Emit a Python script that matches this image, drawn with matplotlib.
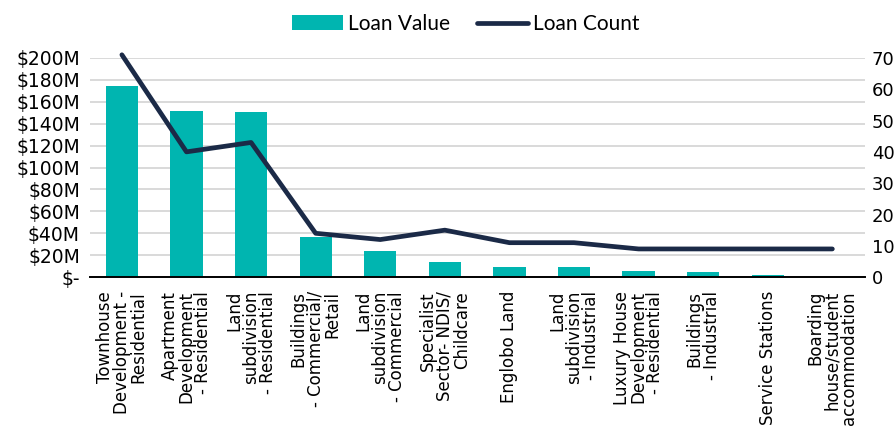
import matplotlib
matplotlib.use("Agg")
import matplotlib.pyplot as plt
from matplotlib.ticker import FuncFormatter

plt.rcParams['font.family'] = ['DejaVu Sans']

categories = [
    "Townhouse\nDevelopment -\nResidential",
    "Apartment\nDevelopment\n- Residential",
    "Land\nsubdivision\n- Residential",
    "Buildings\n- Commercial/\nRetail",
    "Land\nsubdivision\n- Commercial",
    "Specialist\nSector- NDIS/\nChildcare",
    "Englobo Land",
    "Land\nsubdivision\n- Industrial",
    "Luxury House\nDevelopment\n- Residential",
    "Buildings\n- Industrial",
    "Service Stations",
    "Boarding\nhouse/student\naccommodation",
]
loan_value = [174, 152, 151, 37, 24, 14, 9, 9, 5.5, 4.6, 1.5, 0.3]  # $M
loan_count = [71, 40, 43, 14, 12, 15, 11, 11, 9, 9, 9, 9]

teal = "#00B5B0"
navy = "#1B2A47"

fig = plt.figure(figsize=(8.96, 4.29), dpi=100)
ax = fig.add_axes([0.1, 0.354, 0.865, 0.511])
ax2 = ax.twinx()

x = range(len(categories))
bars = ax.bar(x, loan_value, width=0.5, color=teal, label="Loan Value", zorder=2)
line, = ax2.plot(x, loan_count, color=navy, linewidth=3.4, solid_capstyle='round',
                 solid_joinstyle='round', label="Loan Count", clip_on=False)

ax.set_xlim(-0.5, len(categories) - 0.5)
ax.set_ylim(0, 200)
ax.set_yticks(range(0, 201, 20))
ax.yaxis.set_major_formatter(FuncFormatter(lambda v, p: "$-" if v == 0 else f"${int(v)}M"))
ax2.set_ylim(0, 70)
ax2.set_yticks(range(0, 71, 10))

ax.grid(axis='y', color='#D9D9D9', linewidth=1.4)
ax.set_axisbelow(True)

for a in (ax, ax2):
    for s in ("top", "left", "right"):
        a.spines[s].set_visible(False)
    a.tick_params(length=0)
ax2.spines["bottom"].set_visible(False)
ax.spines["bottom"].set_color("black")
ax.spines["bottom"].set_linewidth(1.4)

ax.tick_params(axis='y', labelsize=13.5, pad=7)
ax2.tick_params(axis='y', labelsize=13, pad=5)

ax.set_xticks(list(x))
ax.set_xticklabels(categories, rotation=90, ha='center', va='top',
                   multialignment='right', fontsize=12, linespacing=0.92)
ax.tick_params(axis='x', pad=10)

leg = fig.legend([bars, line], ["Loan Value", "Loan Count"], loc='center',
                 bbox_to_anchor=(0.52, 0.944), ncol=2, frameon=False,
                 prop={'family': 'Lato', 'size': 15},
                 handlelength=2.45, columnspacing=1.3, handletextpad=0.25)

plt.savefig("out.png", dpi=100)
